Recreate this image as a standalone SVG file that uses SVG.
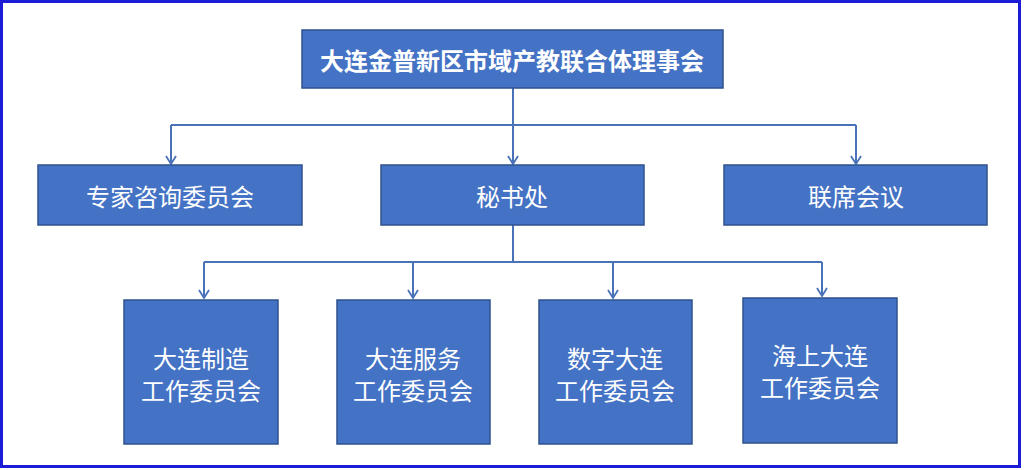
<svg xmlns="http://www.w3.org/2000/svg" width="1024" height="470" viewBox="0 0 1024 470">
<defs>
<style>
.box{fill:#4472C4;stroke:#2F528F;stroke-width:1.5}
.t{fill:#ffffff;font-family:"Noto Sans CJK SC","Noto Sans",sans-serif;font-size:24px;text-anchor:middle;dominant-baseline:central}
.tb{font-weight:bold}
.ln{fill:none;stroke:#4A72B8;stroke-width:2}
</style>
<marker id="arr" viewBox="0 0 12 12" refX="11" refY="6" markerWidth="12" markerHeight="12" markerUnits="userSpaceOnUse" orient="auto">
<path d="M3,1 L11,6 L3,11" fill="none" stroke="#4A72B8" stroke-width="1.8"/>
</marker>
</defs>
<rect x="0" y="0" width="1024" height="470" fill="#ffffff"/>
<rect x="1.5" y="1.5" width="1018" height="465" fill="none" stroke="#1C1CD6" stroke-width="3"/>
<g id="connectors">
<path class="ln" d="M513,88 V125"/>
<path class="ln" d="M171,125 H856"/>
<path class="ln" d="M171,125 V164" marker-end="url(#arr)"/>
<path class="ln" d="M513,125 V164" marker-end="url(#arr)"/>
<path class="ln" d="M856,125 V164" marker-end="url(#arr)"/>
<path class="ln" d="M513,225 V262"/>
<path class="ln" d="M204,262 H822"/>
<path class="ln" d="M204,262 V298" marker-end="url(#arr)"/>
<path class="ln" d="M413,262 V298" marker-end="url(#arr)"/>
<path class="ln" d="M613,262 V298" marker-end="url(#arr)"/>
<path class="ln" d="M822,262 V296" marker-end="url(#arr)"/>
</g>
<g id="n-top">
<rect class="box" x="302" y="30" width="421" height="58"/>
<text class="t tb" x="512" y="59">大连金普新区市域产教联合体理事会</text>
</g>
<g id="n-expert">
<rect class="box" x="38" y="165" width="264" height="60"/>
<text class="t" x="170" y="195">专家咨询委员会</text>
</g>
<g id="n-secretary">
<rect class="box" x="381" y="165" width="263" height="60"/>
<text class="t" x="512" y="195">秘书处</text>
</g>
<g id="n-joint">
<rect class="box" x="724" y="165" width="263" height="60"/>
<text class="t" x="856" y="195">联席会议</text>
</g>
<g id="n-mfg">
<rect class="box" x="124" y="300" width="154" height="144"/>
<text class="t" x="201" y="357">大连制造</text>
<text class="t" x="201" y="389">工作委员会</text>
</g>
<g id="n-svc">
<rect class="box" x="337" y="300" width="153" height="144"/>
<text class="t" x="413" y="357">大连服务</text>
<text class="t" x="413" y="389">工作委员会</text>
</g>
<g id="n-digital">
<rect class="box" x="539" y="300" width="153" height="144"/>
<text class="t" x="615" y="357">数字大连</text>
<text class="t" x="615" y="389">工作委员会</text>
</g>
<g id="n-sea">
<rect class="box" x="743" y="298" width="154" height="145"/>
<text class="t" x="820" y="354">海上大连</text>
<text class="t" x="820" y="386">工作委员会</text>
</g>
</svg>
